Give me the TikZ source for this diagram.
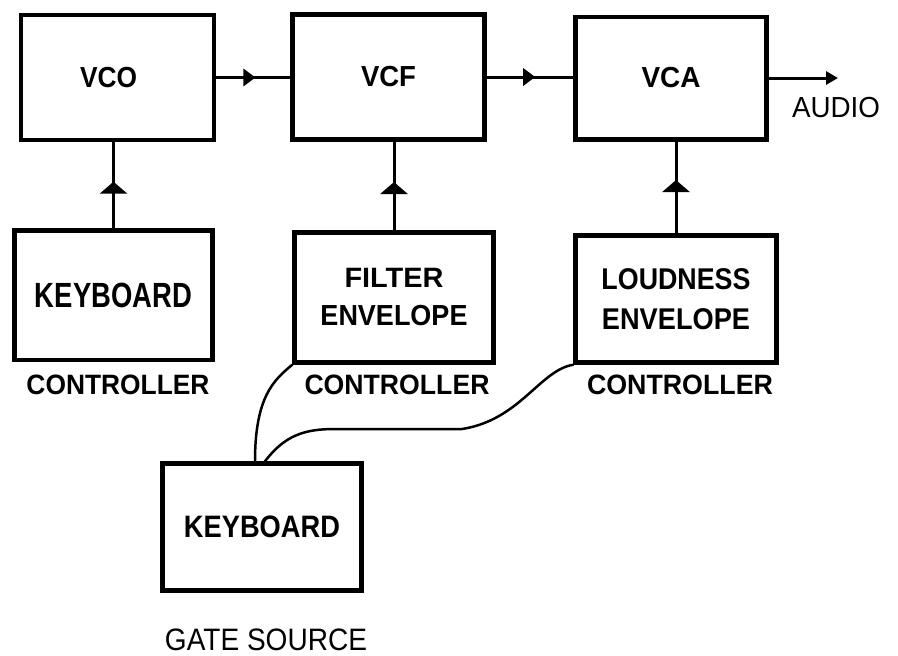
\documentclass[tikz,border=0pt]{standalone}
\usepackage{fontspec}
\setmainfont{Liberation Sans}
\usetikzlibrary{arrows.meta,decorations.markings}
\newcommand\fitlbl[3]{\resizebox{#1pt}{\height}{\fontsize{#2pt}{#2pt}\selectfont #3}}
\begin{document}
\begin{tikzpicture}[x=1pt,y=-1pt,
  blk/.style={draw, line width=4.5pt, rectangle, inner sep=0pt, align=center, font=\bfseries},
  lab/.style={inner sep=0pt, font=\bfseries},
  plainlab/.style={inner sep=0pt},
  conn/.style={line width=3pt},
  wire/.style={line width=2.5pt, line cap=round},
  midarr/.style 2 args={postaction={decorate}, decoration={markings, mark=at position #1 with {\arrow{#2}}}},
  harr/.style={midarr={#1}{Triangle[length=12pt,width=17pt]}},
  varr/.style={midarr={#1}{Triangle[length=12pt,width=27pt]}}]
\fill[white] (0,0) rectangle (898,656);
\useasboundingbox (0,0) rectangle (898,656);

% main chain
\node[blk, minimum width=193pt, minimum height=125pt] (vco) at (117.5,77.5)
  {\makebox[75pt][l]{\fitlbl{57}{29}{VCO}}};
\node[blk, minimum width=192pt, minimum height=125pt] (vcf) at (388.5,77)
  {\fitlbl{55}{29}{VCF}};
\node[blk, minimum width=191pt, minimum height=122.5pt] (vca) at (671,78)
  {\fitlbl{59}{29}{VCA}};

% controllers
\node[blk, minimum width=198pt, minimum height=129.5pt] (kbd) at (113.5,295)
  {\fitlbl{157}{35}{KEYBOARD}};
\node[blk, minimum width=199pt, minimum height=130pt,
      font=\bfseries\fontsize{28pt}{38pt}\selectfont] (filt) at (394,297.5)
  {\fitlbl{99}{28}{FILTER}\\\fitlbl{147}{29}{ENVELOPE}};
\node[blk, minimum width=201pt, minimum height=127pt,
      font=\bfseries\fontsize{30pt}{40pt}\selectfont] (loud) at (676,299)
  {\fitlbl{149}{30}{LOUDNESS}\\\fitlbl{148}{30}{ENVELOPE}};

% gate source
\node[blk, minimum width=199pt, minimum height=127pt] (gate) at (262,527)
  {\fitlbl{156}{31}{KEYBOARD}};

% labels
\node[lab] (ctl1) at (118,385) {\fitlbl{183}{28}{CONTROLLER}};
\node[lab] (ctl2) at (397,385) {\fitlbl{185}{28}{CONTROLLER}};
\node[lab] (ctl3) at (680,385) {\fitlbl{186}{28}{CONTROLLER}};
\node[plainlab] (audiotxt) at (836,108) {\fitlbl{88}{29}{AUDIO}};
\node[plainlab] (gatetxt) at (266,640) {\fitlbl{202}{31}{GATE SOURCE}};

% signal connectors
\draw[conn, harr=0.53] (vco.east) -- (vco.east -| vcf.west);
\draw[conn, harr=0.56] (vcf.east) -- (vcf.east -| vca.west);
\coordinate (audio) at (838,76);
\draw[conn, -{Triangle[length=12pt,width=13pt]}] (vca.east) -- (vca.east -| audio);

% control connectors
\draw[conn, varr=0.54] (kbd.north) -- (kbd.north |- vco.south);
\draw[conn, varr=0.545] (filt.north) -- (filt.north |- vcf.south);
\draw[conn, varr=0.58] (loud.north) -- (loud.north |- vca.south);

% gate wires
\coordinate (w1) at (335,429);
\coordinate (w2) at (462,429);
\draw[wire] ([xshift=-7pt]gate.north) .. controls +(0,-65) and +(-18,15) .. (filt.south west);
\draw[wire] ([xshift=3pt]gate.north) .. controls (285,435) and (305,429) .. (w1)
  -- (w2) .. controls (520,420) and (540,370) .. (loud.south west);
\end{tikzpicture}
\end{document}
